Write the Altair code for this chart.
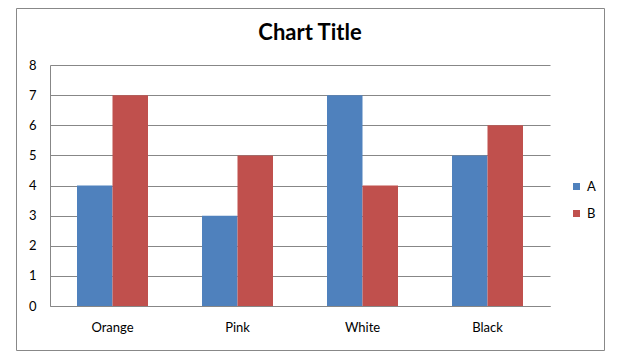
import altair as alt
import pandas as pd

categories = ["Orange", "Pink", "White", "Black"]
series_a = [4, 3, 7, 5]
series_b = [7, 5, 4, 6]
series_names = ["A", "B"]
colors = ["#4F81BD", "#C0504D"]
title_text = "Chart Title"

rows = []
for c, a, b in zip(categories, series_a, series_b):
    rows.append({"cat": c, "series": "A", "value": a})
    rows.append({"cat": c, "series": "B", "value": b})
df = pd.DataFrame(rows)

FONT = "Lato"
GRID = "#878787"

bars = alt.Chart(df).mark_bar(strokeWidth=0).encode(
    x=alt.X("cat:N", sort=categories, title=None,
            scale=alt.Scale(paddingInner=0.432, paddingOuter=0.216),
            axis=alt.Axis(labelAngle=0, ticks=False, domainColor=GRID,
                          labelPadding=15, labelFont=FONT, labelFontSize=13,
                          labelColor="#000000")),
    xOffset=alt.XOffset("series:N", sort=series_names,
                        scale=alt.Scale(paddingInner=0, paddingOuter=0)),
    y=alt.Y("value:Q", title=None,
            scale=alt.Scale(domain=[0, 8], nice=False),
            axis=alt.Axis(values=list(range(0, 9)), ticks=False, domainColor=GRID,
                          gridColor=GRID, labelPadding=14, labelFont=FONT,
                          labelFontSize=13, labelColor="#000000")),
    color=alt.Color("series:N", sort=series_names,
                    scale=alt.Scale(domain=series_names, range=colors),
                    legend=alt.Legend(title=None, orient="none", legendX=520, legendY=115,
                                      symbolType="square", symbolSize=49,
                                      symbolStrokeWidth=0, labelFont=FONT,
                                      labelFontSize=13, labelColor="#000000",
                                      rowPadding=13, labelOffset=4)),
)

border = alt.Chart(pd.DataFrame({"a": [0]})).mark_rect(
    fill=None, stroke="#888888", strokeWidth=1
).encode(
    x=alt.value(-33.5), x2=alt.value(554.5), y=alt.value(-56.5), y2=alt.value(285.5)
)

title = alt.Chart(pd.DataFrame({"t": [title_text]})).mark_text(
    font=FONT, fontSize=22, fontWeight="bold", color="#000000",
    align="center", baseline="middle"
).encode(x=alt.value(260), y=alt.value(-32), text="t:N")

chart = alt.layer(border, bars, title).properties(
    width=500, height=241,
    padding={"left": 42, "top": 57, "right": 80, "bottom": 47},
    autosize=alt.AutoSizeParams(type="none"),
).configure_view(stroke=None).configure_axis(grid=True).configure_axisX(grid=False)

chart.save("out.html", embed_options={"renderer": "svg", "actions": False})
